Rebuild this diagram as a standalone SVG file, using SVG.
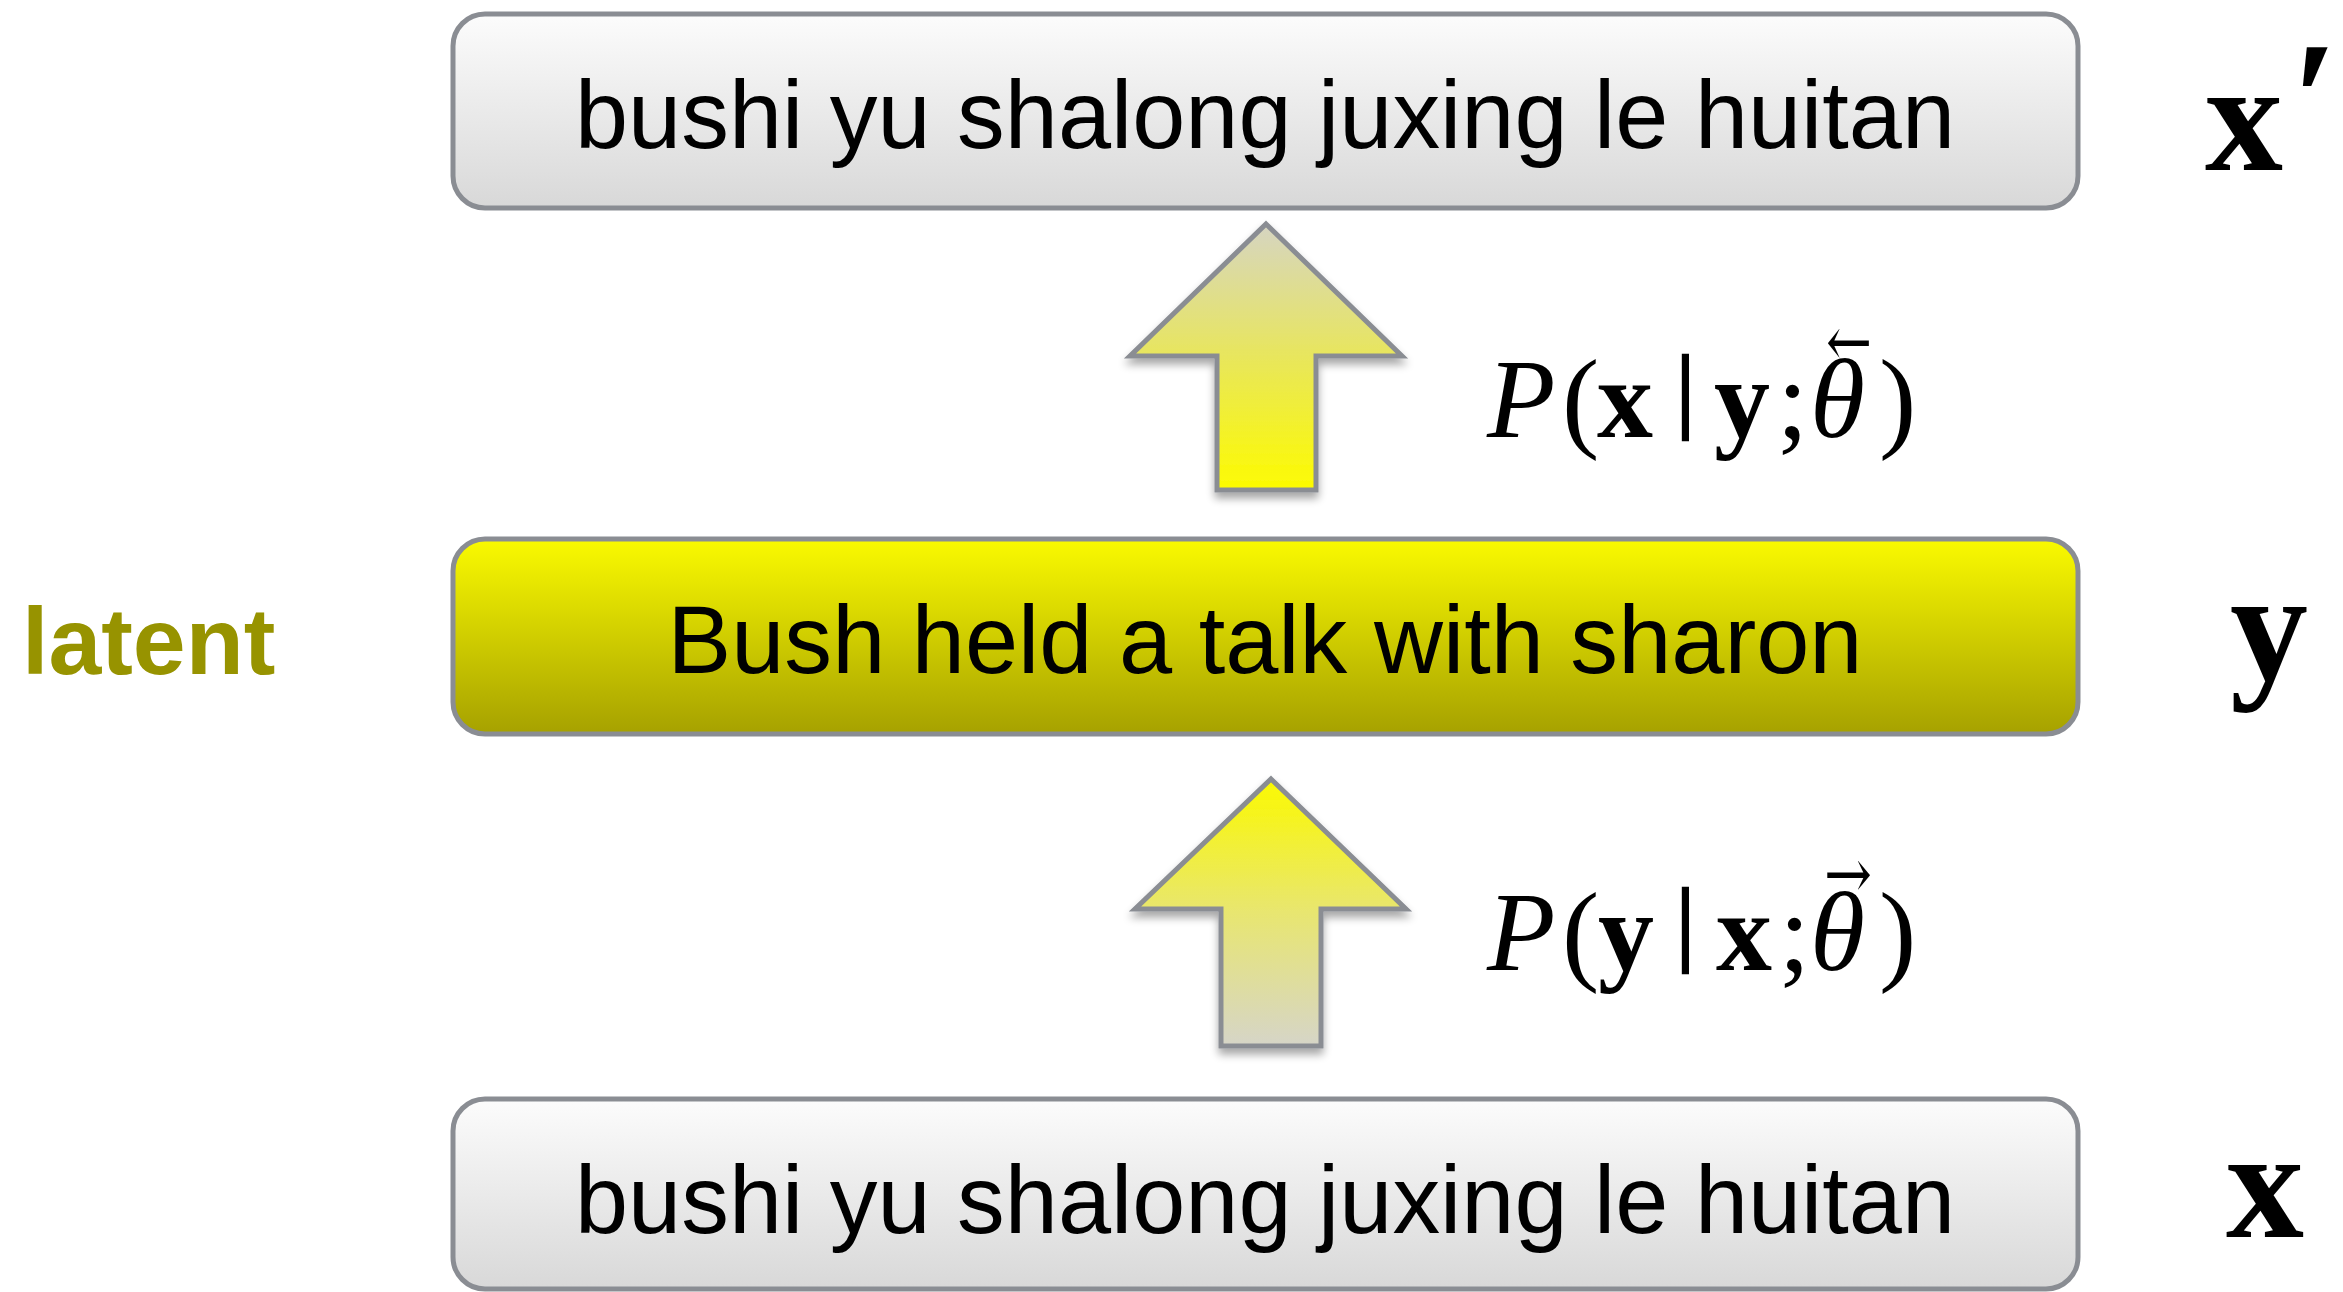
<svg xmlns="http://www.w3.org/2000/svg" width="2343" height="1292" viewBox="0 0 2343 1292">
  <defs>
    <linearGradient id="gWhite" x1="0" y1="0" x2="0" y2="1">
      <stop offset="0" stop-color="#fcfcfc"/>
      <stop offset="1" stop-color="#d8d8d8"/>
    </linearGradient>
    <linearGradient id="gYellow" x1="0" y1="0" x2="0" y2="1">
      <stop offset="0" stop-color="#fafa00"/>
      <stop offset="1" stop-color="#a6a100"/>
    </linearGradient>
    <linearGradient id="gArrowUp" x1="0" y1="0" x2="0" y2="1">
      <stop offset="0" stop-color="#d6d5c2"/>
      <stop offset="0.5" stop-color="#e8e65c"/>
      <stop offset="1" stop-color="#fdfb00"/>
    </linearGradient>
    <linearGradient id="gArrowDown" x1="0" y1="0" x2="0" y2="1">
      <stop offset="0" stop-color="#fbf900"/>
      <stop offset="0.5" stop-color="#e8e670"/>
      <stop offset="1" stop-color="#d6d5c8"/>
    </linearGradient>
    <filter id="shadow" x="-20%" y="-20%" width="140%" height="140%">
      <feGaussianBlur in="SourceAlpha" stdDeviation="4"/>
      <feOffset dx="0" dy="6" result="b"/>
      <feComponentTransfer><feFuncA type="linear" slope="0.35"/></feComponentTransfer>
      <feMerge><feMergeNode/><feMergeNode in="SourceGraphic"/></feMerge>
    </filter>
  </defs>
  <style>
    .box { stroke: #8a8d93; stroke-width: 5; }
    .boxText { font-family: "Liberation Sans", Arial, sans-serif; font-size: 96px; fill: #000; text-anchor: middle; }
    .latent { font-family: "Liberation Sans", Arial, sans-serif; font-size: 95px; font-weight: bold; fill: #979300; }
    .math { font-family: "Liberation Serif", "Times New Roman", serif; font-size: 112px; fill: #000; }
    .var { font-family: "Liberation Serif", "Times New Roman", serif; font-size: 156px; font-weight: bold; fill: #000; }
    .arrow { stroke: #8a8d93; stroke-width: 5; stroke-linejoin: miter; }
    .bar { font-size: 94px; stroke: #000; stroke-width: 2.5; }
    .acc { font-family: "DejaVu Serif", "Liberation Serif", serif; font-size: 70px; fill: #000; }
    .b { font-weight: bold; }
    .i { font-style: italic; }
  </style>

  <rect width="2343" height="1292" fill="#ffffff"/>

  <g id="node-top">
    <rect class="box" x="453" y="14" width="1625" height="194" rx="32" ry="32" fill="url(#gWhite)"/>
    <text class="boxText" x="1265" y="148" textLength="1380" lengthAdjust="spacingAndGlyphs">bushi yu shalong juxing le huitan</text>
  </g>

  <g id="node-middle">
    <rect class="box" x="453" y="539" width="1625" height="195" rx="32" ry="32" fill="url(#gYellow)"/>
    <text class="boxText" x="1265" y="673" textLength="1195" lengthAdjust="spacingAndGlyphs">Bush held a talk with sharon</text>
  </g>

  <g id="node-bottom">
    <rect class="box" x="453" y="1099" width="1625" height="190" rx="32" ry="32" fill="url(#gWhite)"/>
    <text class="boxText" x="1265" y="1233" textLength="1380" lengthAdjust="spacingAndGlyphs">bushi yu shalong juxing le huitan</text>
  </g>

  <g id="label-latent">
    <text class="latent" x="22" y="674">latent</text>
  </g>

  <g id="label-xprime">
    <text class="var" x="2205" y="170">x<tspan x="2292" y="156" font-size="165">′</tspan></text>
  </g>
  <g id="label-y">
    <text class="var" x="2230" y="680">y</text>
  </g>
  <g id="label-x">
    <text class="var" x="2226" y="1237">x</text>
  </g>

  <g id="connectors">
    <g id="arrow-upper" filter="url(#shadow)">
      <polygon class="arrow" fill="url(#gArrowUp)" points="1266,224 1402,356 1316,356 1316,490 1217,490 1217,356 1130,356"/>
    </g>
    <g id="arrow-lower" filter="url(#shadow)">
      <polygon class="arrow" fill="url(#gArrowDown)" points="1271,779 1406,909 1321,909 1321,1046 1221,1046 1221,909 1135,909"/>
    </g>
    <g id="label-upper">
      <text class="math" y="437"><tspan class="i" x="1487">P</tspan><tspan x="1562">(</tspan><tspan class="b" x="1597">x</tspan><tspan class="bar" x="1676" dy="-17">|</tspan><tspan class="b" x="1714" dy="17">y</tspan><tspan x="1777">;</tspan><tspan class="i" x="1810">θ</tspan><tspan x="1879">)</tspan></text>
      <text class="acc" x="1826" y="366" textLength="46" lengthAdjust="spacingAndGlyphs">←</text>
    </g>
    <g id="label-lower">
      <text class="math" y="970"><tspan class="i" x="1487">P</tspan><tspan x="1562">(</tspan><tspan class="b" x="1598">y</tspan><tspan class="bar" x="1676" dy="-17">|</tspan><tspan class="b" x="1716" dy="17">x</tspan><tspan x="1779">;</tspan><tspan class="i" x="1810">θ</tspan><tspan x="1879">)</tspan></text>
      <text class="acc" x="1824" y="898" textLength="48" lengthAdjust="spacingAndGlyphs">→</text>
    </g>
  </g>
</svg>
